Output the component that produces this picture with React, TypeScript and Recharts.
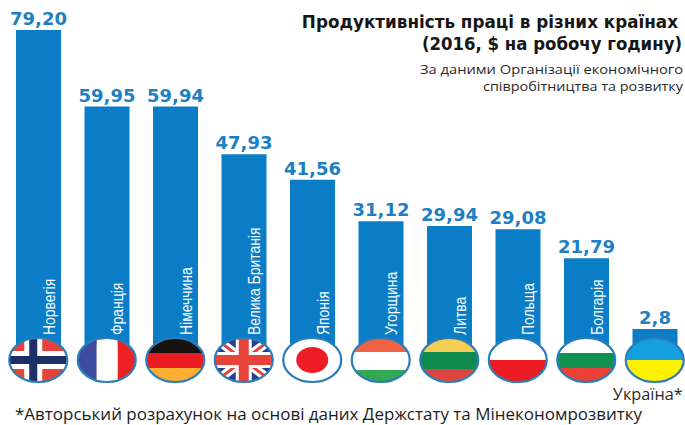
import {Bar, BarChart, LabelList, XAxis, YAxis} from 'recharts';

const countries = [
  'Норвегія',
  'Франція',
  'Німеччина',
  'Велика Британія',
  'Японія',
  'Угорщина',
  'Литва',
  'Польща',
  'Болгарія',
  'Україна*',
];
const productivity = [79.2, 59.95, 59.94, 47.93, 41.56, 31.12, 29.94, 29.08, 21.79, 2.8];
const valueLabels = ['79,20', '59,95', '59,94', '47,93', '41,56', '31,12', '29,94', '29,08', '21,79', '2,8'];

const data = countries.map((name, i) => ({name, value: productivity[i], label: valueLabels[i]}));

const BLUE = '#0a7dc6';
const RX = 29;
const RY = 22;

// country -> [colour, height share] stripes, top to bottom
const stripes: Record<string, [string, number][]> = {
  Німеччина: [['#14110f', 15], ['#ed1c24', 15], ['#fbb034', 14]],
  Угорщина: [['#ef6244', 14], ['#ffffff', 18], ['#35a853', 12]],
  Литва: [['#f7cf55', 14], ['#0f8a4f', 17], ['#df4540', 13]],
  Польща: [['#ffffff', 22], ['#ed1c24', 22]],
  Болгарія: [['#ffffff', 15], ['#0f9150', 15], ['#ea4038', 14]],
  'Україна*': [['#149fe0', 22], ['#fff200', 22]],
};

function FlagBody({name}: {name: string}) {
  if (name === 'Норвегія') {
    return (
      <g>
        <rect x={-RX} y={-RY} width={RX * 2} height={RY * 2} fill="#e8433b" />
        <rect x={-14} y={-RY} width={18} height={RY * 2} fill="#fff" />
        <rect x={-RX} y={-9} width={RX * 2} height={18} fill="#fff" />
        <rect x={-9} y={-RY} width={8} height={RY * 2} fill="#1d2f66" />
        <rect x={-RX} y={-4} width={RX * 2} height={8} fill="#1d2f66" />
      </g>
    );
  }
  if (name === 'Франція') {
    return (
      <g>
        <rect x={-RX} y={-RY} width={19} height={RY * 2} fill="#3c4a9f" />
        <rect x={-10} y={-RY} width={21} height={RY * 2} fill="#fff" />
        <rect x={11} y={-RY} width={18} height={RY * 2} fill="#ed2024" />
      </g>
    );
  }
  if (name === 'Велика Британія') {
    return (
      <g>
        <rect x={-RX} y={-RY} width={RX * 2} height={RY * 2} fill="#27408f" />
        <path d={`M${-RX} ${-RY}L${RX} ${RY}M${RX} ${-RY}L${-RX} ${RY}`} stroke="#fff" strokeWidth={9} />
        <path d={`M${-RX} ${-RY}L${RX} ${RY}M${RX} ${-RY}L${-RX} ${RY}`} stroke="#e8433b" strokeWidth={3} />
        <rect x={-8} y={-RY} width={16} height={RY * 2} fill="#fff" />
        <rect x={-RX} y={-8} width={RX * 2} height={16} fill="#fff" />
        <rect x={-5} y={-RY} width={10} height={RY * 2} fill="#e8433b" />
        <rect x={-RX} y={-5} width={RX * 2} height={10} fill="#e8433b" />
      </g>
    );
  }
  if (name === 'Японія') {
    return (
      <g>
        <rect x={-RX} y={-RY} width={RX * 2} height={RY * 2} fill="#fff" />
        <ellipse cx={0} cy={0} rx={16} ry={13} fill="#ee1c25" />
      </g>
    );
  }
  let top = -RY;
  return (
    <g>
      {stripes[name].map(([color, h]) => {
        const r = <rect key={color} x={-RX} y={top} width={RX * 2} height={h} fill={color} />;
        top += h;
        return r;
      })}
    </g>
  );
}

function FlagTick({x, y, payload, index}: any) {
  const name = payload.value;
  const isLast = name === 'Україна*';
  const id = `flag-${index}`;
  return (
    <g transform={`translate(${x},${y})`}>
      <g transform="translate(0,9)">
        <clipPath id={id}>
          <ellipse cx={0} cy={0} rx={RX} ry={RY} />
        </clipPath>
        <g clipPath={`url(#${id})`}>
          <FlagBody name={name} />
        </g>
        <ellipse cx={0} cy={0} rx={RX} ry={RY} fill="none" stroke="#2f7db8" strokeWidth={2.2} />
      </g>
      {isLast ? (
        <text x={28} y={49} textAnchor="end" fontFamily="'Open Sans'" fontWeight={500} fontSize={16.3} fill="#2a2a2a">
          {name}
        </text>
      ) : (
        <text
          transform="translate(16.5,-16) rotate(-90) scale(0.82,1)"
          fontFamily="'Liberation Sans Narrow', 'Liberation Sans'"
          fontSize={17}
          fill="#f7fbfd"
        >
          {name}
        </text>
      )}
    </g>
  );
}

export default function App() {
  return (
    <div style={{position: 'absolute', left: 0, top: 0, width: 685, height: 425, overflow: 'hidden', background: '#fff'}}>
      <BarChart
        width={685}
        height={425}
        data={data}
        margin={{top: 30, right: -4, left: 4, bottom: 0}}
        barCategoryGap={0}
      >
        <YAxis hide domain={[0, 79.2]} />
        <Bar dataKey="value" fill={BLUE} barSize={45} minPointSize={16} isAnimationActive={false}>
          <LabelList
            dataKey="label"
            position="top"
            offset={5}
            fill="#1c80c2"
            fontFamily="'DejaVu Sans'"
            fontWeight={700}
            fontSize={18}
          />
        </Bar>
        <XAxis
          dataKey="name"
          height={80}
          interval={0}
          axisLine={false}
          tickLine={false}
          tickMargin={0}
          tick={<FlagTick />}
        />
        <text transform="translate(678,28) scale(0.933,1)" textAnchor="end" fontFamily="'DejaVu Sans'" fontWeight={700} fontSize={18} fill="#161616">
          Продуктивність праці в різних країнах
        </text>
        <text transform="translate(682,50) scale(0.92,1)" textAnchor="end" fontFamily="'DejaVu Sans'" fontWeight={700} fontSize={18} fill="#161616">
          (2016, $ на робочу годину)
        </text>
        <text x={683} y={74} textAnchor="end" fontFamily="'Open Sans'" fontWeight={500} fontSize={13} textLength={263} lengthAdjust="spacingAndGlyphs" fill="#2a2a2a">
          За даними Організації економічного
        </text>
        <text x={683} y={91} textAnchor="end" fontFamily="'Open Sans'" fontWeight={500} fontSize={13} textLength={200} lengthAdjust="spacingAndGlyphs" fill="#2a2a2a">
          співробітництва та розвитку
        </text>
        <text x={15} y={420} fontFamily="'Open Sans'" fontWeight={500} fontSize={16.5} textLength={627} lengthAdjust="spacingAndGlyphs" fill="#1c1c1c">
          *Авторський розрахунок на основі даних Держстату та Мінекономрозвитку
        </text>
      </BarChart>
    </div>
  );
}
